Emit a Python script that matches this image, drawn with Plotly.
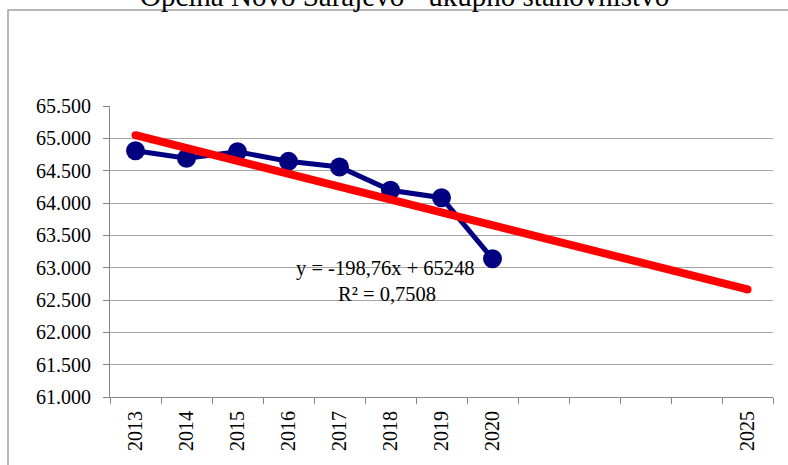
import plotly.graph_objects as go

# ---- data ----
categories = ["2013", "2014", "2015", "2016", "2017", "2018", "2019", "2020",
              " ", "  ", "   ", "    ", "2025"]
pop_years = ["2013", "2014", "2015", "2016", "2017", "2018", "2019", "2020"]
population = [64808, 64691, 64793, 64644, 64556, 64196, 64082, 63139]
trend_years = ["2013", "2025"]
trend_values = [65049, 62664]
equation_text = "y = -198,76x + 65248"
r2_text = "R² = 0,7508"
title_text = "Općina Novo Sarajevo - ukupno stanovništvo"
y_range = [61000, 65500]

FONT = "Liberation Serif"

fig = go.Figure()
fig.add_trace(go.Scatter(
    x=pop_years, y=population, mode="lines+markers",
    line=dict(color="#000080", width=5),
    marker=dict(color="#000080", size=19),
    showlegend=False, hoverinfo="skip"))
fig.add_trace(go.Scatter(
    x=trend_years, y=trend_values, mode="lines+markers",
    line=dict(color="#FF0000", width=8),
    marker=dict(color="#FF0000", size=8),
    showlegend=False, hoverinfo="skip"))

# plot area geometry (pixels)
W, H = 788, 465
L, R, T, B = 110, 15, 106, 68
pw, ph = W - L - R, H - T - B

def px_x(p):
    return (p - L) / pw

def px_y(p):
    return (H - B - p) / ph

fig.update_layout(
    width=W, height=H,
    margin=dict(l=L, r=R, t=T, b=B, pad=0),
    paper_bgcolor="white", plot_bgcolor="white",
    font=dict(family=FONT, size=20, color="black"),
    separators=",.",
    xaxis=dict(
        type="category", categoryorder="array", categoryarray=categories,
        range=[-0.5, len(categories) - 0.5],
        tickson="boundaries", ticks="outside", ticklen=6, tickcolor="#868686",
        tickangle=-90, showgrid=False, showline=True, linecolor="#868686",
        linewidth=1, tickfont=dict(family=FONT, size=20, color="black"),
        ticklabelstandoff=5, fixedrange=True,
    ),
    yaxis=dict(
        range=y_range, dtick=500, tickformat=",d",
        ticks="outside", ticklen=6, tickcolor="#868686",
        showgrid=True, gridcolor="#a6a6a6", gridwidth=1,
        showline=True, linecolor="#868686", linewidth=1,
        zeroline=False, tickfont=dict(family=FONT, size=20, color="black"),
        ticklabelstandoff=8, fixedrange=True,
    ),
    shapes=[dict(type="rect", xref="paper", yref="paper",
                 x0=px_x(8), x1=px_x(800), y0=px_y(480), y1=px_y(10),
                 line=dict(color="#a0a0a0", width=1.5), fillcolor="rgba(0,0,0,0)",
                 layer="below")],
    annotations=[
        dict(text=equation_text, xref="paper", yref="paper",
             x=px_x(385), y=px_y(268), showarrow=False,
             xanchor="center", yanchor="middle", font=dict(family=FONT, size=20.5)),
        dict(text=r2_text, xref="paper", yref="paper",
             x=px_x(387), y=px_y(294), showarrow=False,
             xanchor="center", yanchor="middle", font=dict(family=FONT, size=20.5)),
        dict(text=title_text, xref="paper", yref="paper",
             x=px_x(404), y=px_y(-4), showarrow=False,
             xanchor="center", yanchor="middle", font=dict(family=FONT, size=29)),
    ],
)

fig.write_html("out.html", config={"displayModeBar": False},
               post_script="document.body.style.margin='0';document.body.style.overflow='hidden';")
